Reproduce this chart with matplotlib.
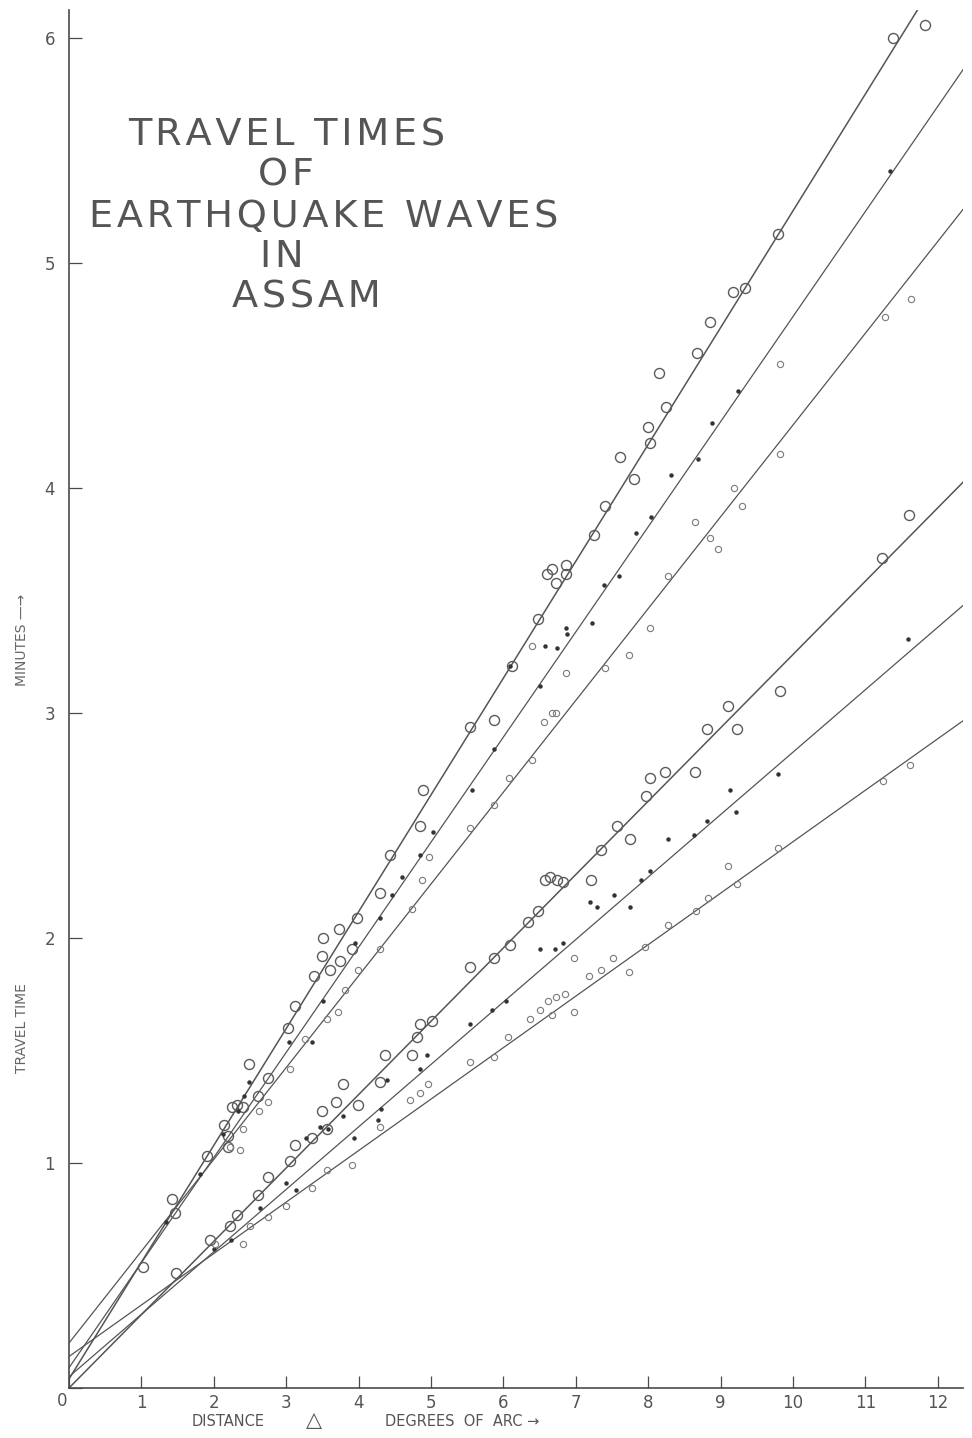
import numpy as np
import matplotlib
matplotlib.use("Agg")
import matplotlib.pyplot as plt

# fitted lines: travel time at distance 0 and at distance 12.5 deg
line_x = [0.0, 12.5]
line_t = {
    "A": [0.04, 6.53],
    "B": [0.09, 5.93],
    "C": [0.20, 5.30],
    "D": [0.00, 4.075],
    "E": [0.05, 3.52],
    "F": [0.14, 3.00],
}

# observations (distance deg, time min)
a_x = [11.38, 11.82, 9.79, 9.17, 9.34, 8.85, 8.67, 8.15, 8.25, 8.0, 8.02, 7.61, 7.80, 7.40, 7.25,
       6.60, 6.67, 6.72, 6.86, 6.86, 6.48, 6.12, 5.87, 5.54, 4.89, 4.85, 4.43, 4.30, 3.98, 3.51,
       3.73, 3.50, 3.60, 3.74, 3.91, 3.38, 3.12, 3.02, 2.49, 2.75, 2.61, 2.25, 2.32, 2.40, 2.14,
       2.20, 2.20, 1.90, 1.42, 1.46, 1.02]
a_t = [6.00, 6.06, 5.13, 4.87, 4.89, 4.74, 4.60, 4.51, 4.36, 4.27, 4.20, 4.14, 4.04, 3.92, 3.79,
       3.62, 3.64, 3.58, 3.66, 3.62, 3.42, 3.21, 2.97, 2.94, 2.66, 2.50, 2.37, 2.20, 2.09, 2.00,
       2.04, 1.92, 1.86, 1.90, 1.95, 1.83, 1.70, 1.60, 1.44, 1.38, 1.30, 1.25, 1.26, 1.25, 1.17,
       1.12, 1.07, 1.03, 0.84, 0.78, 0.54]

b_x = [11.34, 9.24, 8.88, 8.69, 8.31, 8.04, 7.83, 7.60, 7.39, 7.22, 6.86, 6.88, 6.74, 6.57, 6.51,
       6.09, 5.87, 5.57, 5.03, 4.85, 4.60, 4.46, 4.30, 3.95, 3.51, 3.36, 3.04, 2.49, 2.42, 2.33,
       2.13, 1.81, 1.34]
b_t = [5.41, 4.43, 4.29, 4.13, 4.06, 3.87, 3.80, 3.61, 3.57, 3.40, 3.38, 3.35, 3.29, 3.30, 3.12,
       3.21, 2.84, 2.66, 2.47, 2.37, 2.27, 2.19, 2.09, 1.98, 1.72, 1.54, 1.54, 1.36, 1.30, 1.23,
       1.13, 0.95, 0.74]

c_x = [11.63, 11.27, 9.82, 9.82, 9.18, 9.30, 8.85, 8.96, 8.65, 8.27, 8.02, 7.73, 7.40, 6.86, 6.67,
       6.72, 6.56, 6.40, 6.39, 6.08, 5.87, 5.54, 4.97, 4.88, 4.74, 4.30, 3.99, 3.81, 3.72, 3.56,
       3.26, 3.05, 2.75, 2.62, 2.40, 2.36, 2.22]
c_t = [4.84, 4.76, 4.55, 4.15, 4.00, 3.92, 3.78, 3.73, 3.85, 3.61, 3.38, 3.26, 3.20, 3.18, 3.00,
       3.00, 2.96, 3.30, 2.79, 2.71, 2.59, 2.49, 2.36, 2.26, 2.13, 1.95, 1.86, 1.77, 1.67, 1.64,
       1.55, 1.42, 1.27, 1.23, 1.15, 1.06, 1.07]

d_x = [11.23, 11.60, 9.82, 9.10, 9.23, 8.81, 8.65, 8.23, 8.02, 7.97, 7.57, 7.75, 7.35, 7.21, 6.57,
       6.65, 6.74, 6.82, 6.48, 6.34, 6.09, 5.87, 5.54, 5.01, 4.85, 4.81, 4.74, 4.36, 4.30, 3.99,
       3.78, 3.69, 3.49, 3.36, 3.56, 3.12, 3.05, 2.75, 2.61, 2.32, 2.22, 1.95, 1.48]
d_t = [3.69, 3.88, 3.10, 3.03, 2.93, 2.93, 2.74, 2.74, 2.71, 2.63, 2.50, 2.44, 2.39, 2.26, 2.26,
       2.27, 2.26, 2.25, 2.12, 2.07, 1.97, 1.91, 1.87, 1.63, 1.62, 1.56, 1.48, 1.48, 1.36, 1.26,
       1.35, 1.27, 1.23, 1.11, 1.15, 1.08, 1.01, 0.94, 0.86, 0.77, 0.72, 0.66, 0.51]

e_x = [11.59, 9.79, 9.21, 9.13, 8.81, 8.63, 8.27, 8.02, 7.90, 7.75, 7.53, 7.29, 7.20, 6.82, 6.71,
       6.51, 6.04, 5.84, 5.54, 4.94, 4.85, 4.39, 4.31, 4.27, 3.94, 3.78, 3.58, 3.47, 3.27, 3.14,
       3.00, 2.64, 2.24, 2.00]
e_t = [3.33, 2.73, 2.56, 2.66, 2.52, 2.46, 2.44, 2.30, 2.26, 2.14, 2.19, 2.14, 2.16, 1.98, 1.95,
       1.95, 1.72, 1.68, 1.62, 1.48, 1.42, 1.37, 1.24, 1.19, 1.11, 1.21, 1.15, 1.16, 1.11, 0.88,
       0.91, 0.80, 0.66, 0.62]

f_x = [11.62, 11.24, 9.79, 9.23, 9.10, 8.83, 8.66, 8.27, 7.96, 7.73, 7.52, 7.35, 7.18, 6.97, 6.97,
       6.85, 6.73, 6.62, 6.67, 6.51, 6.37, 6.06, 5.87, 5.54, 4.96, 4.85, 4.71, 4.30, 3.91, 3.56,
       3.36, 3.00, 2.75, 2.50, 2.40, 2.02]
f_t = [2.77, 2.70, 2.40, 2.24, 2.32, 2.18, 2.12, 2.06, 1.96, 1.85, 1.91, 1.86, 1.83, 1.91, 1.67,
       1.75, 1.74, 1.72, 1.66, 1.68, 1.64, 1.56, 1.47, 1.45, 1.35, 1.31, 1.28, 1.16, 0.99, 0.97,
       0.89, 0.81, 0.76, 0.72, 0.64, 0.64]

x_ticks = list(range(0, 13))
y_ticks = [0, 1, 2, 3, 4, 5, 6]
title_lines = ['TRAVEL TIMES', 'OF', 'EARTHQUAKE WAVES', 'IN', 'ASSAM']

ink = '#4a4a4a'
fig = plt.figure(figsize=(9.72, 14.38), dpi=100)
ax = fig.add_axes([69/972, 50/1438, 894/972, 1378/1438])
ax.set_xlim(0, 894/72.4)
ax.set_ylim(0, 1378/225)

for key in line_t:
    lw = 1.1 if key in ("A", "D") else 0.9
    ax.plot(line_x, line_t[key], color='#555555', linewidth=lw, zorder=2)

big = dict(marker='o', linestyle='none', markerfacecolor='none', markeredgecolor='#5a5a5a',
           markeredgewidth=1.0, markersize=7.2, zorder=3)
small = dict(marker='o', linestyle='none', markerfacecolor='none', markeredgecolor='#7a7a7a',
             markeredgewidth=0.8, markersize=4.5, zorder=3)
dot = dict(marker='o', linestyle='none', color='#333333', markersize=2.2, zorder=3)

ax.plot(a_x, a_t, **big)
ax.plot(b_x, b_t, **dot)
ax.plot(c_x, c_t, **small)
ax.plot(d_x, d_t, **big)
ax.plot(e_x, e_t, **dot)
ax.plot(f_x, f_t, **small)

for s in ['top', 'right']:
    ax.spines[s].set_visible(False)
for s in ['left', 'bottom']:
    ax.spines[s].set_color(ink)
    ax.spines[s].set_linewidth(1.2)

ax.set_xticks(x_ticks)
ax.set_yticks(y_ticks)
ax.set_xticklabels([''] + [str(v) for v in x_ticks[1:]])
ax.set_yticklabels([''] + [str(v) for v in y_ticks[1:]])
ax.tick_params(axis='both', direction='in', length=9, width=0.9, colors=ink,
               labelsize=12, labelcolor='#555555')
ax.tick_params(axis='x', pad=4)
ax.tick_params(axis='y', pad=10)
fig.text(62/972, 1 - 1401/1438, '0', fontsize=12, color='#555555', ha='center', va='center')

# axis captions
fig.text(22/972, 1 - 1028/1438, 'TRAVEL TIME', rotation=90, fontsize=10, color='#666666',
         ha='center', va='center')
fig.text(22/972, 1 - 640/1438, 'MINUTES \u2014\u2192', rotation=90, fontsize=10, color='#666666',
         ha='center', va='center')
fig.text(228/972, 1 - 1421/1438, 'DISTANCE', fontsize=10.5, color='#555555', ha='center', va='center')
fig.text(314/972, 1 - 1420/1438, '\u25b3', fontsize=15, color='#555555', ha='center', va='center')
fig.text(462/972, 1 - 1422/1438, 'DEGREES  OF  ARC \u2192', fontsize=10.5, color='#555555',
         ha='center', va='center')

# title block, letters spread with hair spaces
title_x = [287, 286, 324, 282, 306]
title_y = [135, 176, 217, 257, 298]
title_kw = dict(fontsize=27.5, color='#555555', ha='center', va='center', family='DejaVu Sans')
for txt, tx, ty in zip(title_lines, title_x, title_y):
    fig.text(tx/972, 1 - ty/1438, '\u200a'.join(txt), **title_kw)

plt.savefig("out.png", dpi=100)
